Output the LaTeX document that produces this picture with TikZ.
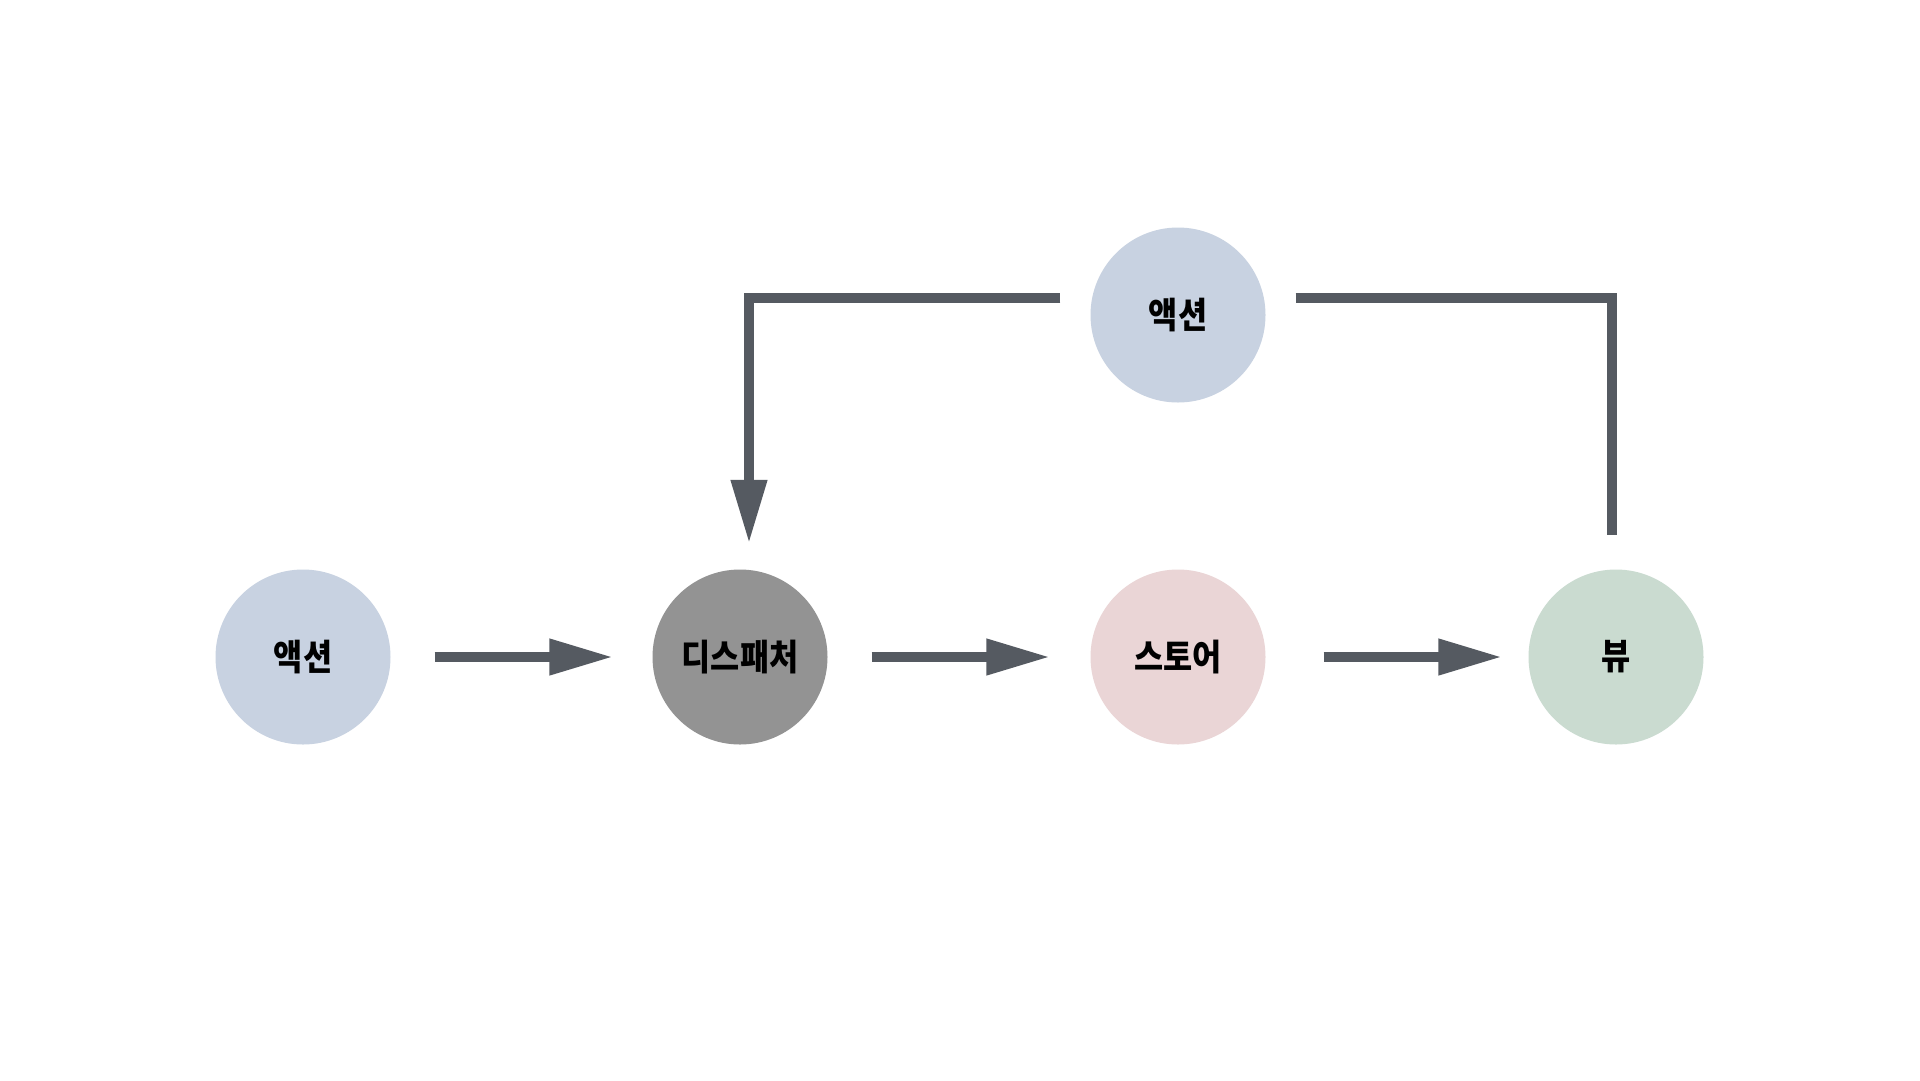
\documentclass[tikz,border=0pt]{standalone}
\usepackage{fontspec}
\newfontfamily\kr{Noto Sans CJK KR}[FakeStretch=0.88, BoldFont={Noto Sans CJK KR Black}]
\usetikzlibrary{arrows.meta}
\definecolor{actc}{HTML}{C8D2E1}
\definecolor{dispc}{HTML}{939393}
\definecolor{storec}{HTML}{EAD5D6}
\definecolor{viewc}{HTML}{CADBD0}
\definecolor{arrowc}{HTML}{555A61}
\begin{document}
\begin{tikzpicture}[x=1pt,y=-1pt,
  circ/.style={circle, minimum size=175pt, inner sep=0pt, draw=none,
    font=\kr\bfseries\fontsize{36}{36}\selectfont},
  conn/.style={line width=10.5pt, draw=arrowc, line join=miter},
  arr/.style={conn, -{Triangle[length=64pt,width=34pt]}}]
\fill[white] (0,0) rectangle (1920,1080);
\useasboundingbox (0,0) rectangle (1920,1080);

\node[circ, fill=actc]   (a1) at (303,657)  {액션};
\node[circ, fill=dispc]  (d)  at (740,657)  {디스패처};
\node[circ, fill=storec] (s)  at (1178,657) {스토어};
\node[circ, fill=viewc]  (v)  at (1616,657) {뷰};
\node[circ, fill=actc]   (a2) at (1178,315) {액션};

\draw[arr, shorten <=44pt, shorten >=39pt] (a1) -- (d);
\draw[arr, shorten <=44pt, shorten >=40pt] (d) -- (s);
\draw[arr, shorten <=58pt, shorten >=26pt] (s) -- (v);

\coordinate (tl1)  at ([xshift=-30pt, yshift=17pt]a2.west);
\coordinate (tr1)  at ([xshift=30pt, yshift=17pt]a2.east);
\coordinate (dtop) at ([xshift=9pt, yshift=25.5pt]d.north);
\coordinate (vtop) at ([xshift=-4pt, yshift=34pt]v.north);

\draw[arr] (tl1) -| (dtop);
\draw[conn] (tr1) -| (vtop);
\end{tikzpicture}
\end{document}
